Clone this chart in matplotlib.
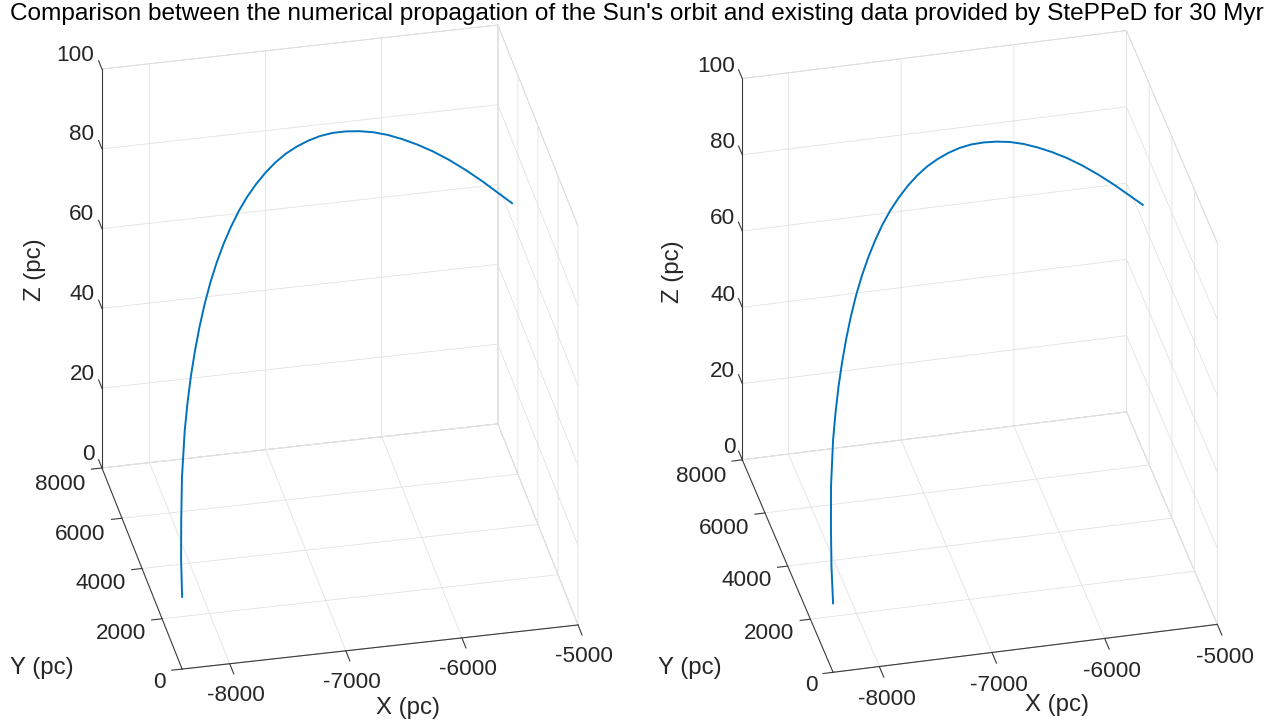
import numpy as np
import matplotlib
matplotlib.use("Agg")
import matplotlib.pyplot as plt
from matplotlib.ticker import NullFormatter

W_PX, H_PX = 1277, 727

TITLE = ("Comparison between the numerical propagation of the Sun's orbit "
         "and existing data provided by StePPeD for 30 Myr")

X_LIM = (-8410, -5000)
Y_LIM = (0, 8000)
Z_LIM = (0, 100)
X_TICKS = [-8000, -7000, -6000, -5000]
Y_TICKS = [0, 2000, 4000, 6000, 8000]
Z_TICKS = [0, 20, 40, 60, 80, 100]

# Sun's orbit over 30 Myr (pc)
orbit_x = [-8410, -8385, -8350, -8310, -8253, -8212, -8166, -8115, -8059,
           -7999, -7934, -7864, -7790, -7711, -7628, -7540, -7448, -7352,
           -7251, -7147, -7038, -6925, -6808, -6687, -6563, -6434, -6302,
           -6166, -6027, -5884, -5739, -5590, -5437, -5282, -5010]
orbit_y = [0, 393, 784, 1174, 1561, 1753, 1944, 2133, 2322,
           2509, 2694, 2877, 3059, 3239, 3417, 3593, 3766, 3937,
           4106, 4272, 4436, 4597, 4754, 4909, 5061, 5210, 5355,
           5497, 5636, 5771, 5902, 6030, 6154, 6274, 6470]
orbit_z = [18.1, 25.0, 32.3, 40.3, 49.4, 55.1, 60.5, 65.4, 70.1,
           74.4, 78.4, 82.0, 85.2, 88.1, 90.7, 92.9, 94.7, 96.2,
           97.4, 98.2, 98.6, 98.7, 98.5, 97.9, 96.9, 95.6, 94.0,
           92.0, 89.6, 86.9, 83.9, 80.5, 76.7, 72.6, 65.0]

LINE_BLUE = "#0072BD"
AX_COLOR = "#3a3a3a"
TXT_COLOR = "#262626"
GRID_COLOR = "#e2e2e2"
EDGE_COLOR = "#cccccc"

TICK_FS = 16.2
LABEL_FS = 17.3
TITLE_FS = 17.6

plt.rcParams["font.family"] = ["Liberation Sans", "DejaVu Sans"]
plt.rcParams["grid.color"] = GRID_COLOR
plt.rcParams["grid.linewidth"] = 0.6

fig = plt.figure(figsize=(W_PX / 100, H_PX / 100), dpi=100)
fig.patch.set_facecolor("white")

panels = [
    {
        "view": (31.9, -101.9),
        "aspect": (404.7, 389, 470),
        "targets": [((X_LIM[0], 0, 0), (182, 669)),
                    ((X_LIM[1], 0, 0), (578, 625)),
                    ((X_LIM[0], 8000, 0), (102, 468)),
                    ((X_LIM[0], 8000, 100), (102, 69))],
        "xlabel": (408, 708), "ylabel": (42, 668), "zlabel": (35, 270),
        "zlab_dy": 560,
        "start": [0.02, 0.05, 0.45, 0.45 * W_PX / H_PX],
    },
    {
        "view": (32.7, -103.0),
        "aspect": (395.1, 404.4, 454),
        "targets": [((X_LIM[0], 0, 0), (833, 672)),
                    ((X_LIM[1], 0, 0), (1218, 624)),
                    ((X_LIM[0], 8000, 0), (742, 460)),
                    ((X_LIM[0], 8000, 100), (742, 79))],
        "xlabel": (1057, 705), "ylabel": (690, 668), "zlabel": (673, 272),
        "zlab_dy": 470,
        "start": [0.52, 0.05, 0.45, 0.45 * W_PX / H_PX],
    },
]


def project_px(ax, pts):
    M = ax.get_proj()
    h = np.column_stack([pts, np.ones(len(pts))]) @ M.T
    xy = h[:, :2] / h[:, 3:4]
    return ax.transData.transform(xy)


def calibrate(ax, targets):
    pts = np.array([t[0] for t in targets], float)
    tgt = np.array([t[1] for t in targets], float)
    tgt[:, 1] = H_PX - tgt[:, 1]
    for _ in range(3):
        fig.canvas.draw()
        cur = project_px(ax, pts)
        bb = ax.get_position().transformed(fig.transFigure)
        c0 = np.array([(bb.x0 + bb.x1) / 2, (bb.y0 + bb.y1) / 2])
        pm, tm = cur.mean(0), tgt.mean(0)
        s = np.sum((cur - pm) * (tgt - tm)) / np.sum((cur - pm) ** 2)
        c1 = tm - s * (pm - c0)
        w, h = bb.width * s, bb.height * s
        ax.set_position([(c1[0] - w / 2) / W_PX, (c1[1] - h / 2) / H_PX,
                         w / W_PX, h / H_PX])


axes = []
for p in panels:
    ax = fig.add_axes(p["start"], projection="3d", proj_type="ortho")
    ax.view_init(elev=p["view"][0], azim=p["view"][1])
    ax.set_box_aspect(p["aspect"])

    for axis in (ax.xaxis, ax.yaxis, ax.zaxis):
        axis.set_pane_color((1, 1, 1, 1))
        axis.pane.set_edgecolor(EDGE_COLOR)
        axis.pane.set_linewidth(0.6)
        axis.line.set_visible(False)
        axis._axinfo["tick"]["inward_factor"] = 0
        axis._axinfo["tick"]["outward_factor"] = 0
        axis._axinfo["grid"]["color"] = GRID_COLOR
        axis._axinfo["grid"]["linewidth"] = 0.6
        axis.set_major_formatter(NullFormatter())

    ax.set_xticks(X_TICKS)
    ax.set_yticks(Y_TICKS)
    ax.set_zticks(Z_TICKS)

    ax.plot(orbit_x, orbit_y, orbit_z, color=LINE_BLUE, lw=1.4)

    xmin, xmax = X_LIM
    ymax = Y_LIM[1]
    # axis lines like MATLAB's
    ax.plot([xmin, xmax], [0, 0], [0, 0], color=AX_COLOR, lw=0.8)
    ax.plot([xmin, xmin], [0, ymax], [0, 0], color=AX_COLOR, lw=0.8)
    ax.plot([xmin, xmin], [ymax, ymax], [0, 100], color=AX_COLOR, lw=0.8)

    for xt in X_TICKS:
        ax.plot([xt, xt], [0, -400], [0, 0], color=AX_COLOR, lw=0.8)
        ax.text(xt - 40, -1050, -1.2, f"{xt}", ha="center", va="center",
                fontsize=TICK_FS, color=TXT_COLOR)
    for yt in Y_TICKS:
        ax.plot([xmin, xmin - 90], [yt, yt], [0, 0], color=AX_COLOR, lw=0.8)
        ax.text(xmin - 140, yt, -3.0 - 0.2 * yt / 2000, f"{yt}", ha="right",
                va="center", fontsize=TICK_FS, color=TXT_COLOR)
    for zt in Z_TICKS:
        ax.plot([xmin, xmin], [ymax, ymax + 330], [zt, zt], color=AX_COLOR, lw=0.8)
        ax.text(xmin - 15, ymax + p["zlab_dy"], zt, f"{zt}", ha="right",
                va="center", fontsize=TICK_FS, color=TXT_COLOR)

    ax.set_xlim(*X_LIM)
    ax.set_ylim(*Y_LIM)
    ax.set_zlim(*Z_LIM)
    axes.append(ax)

    lx, ly = p["xlabel"]
    fig.text(lx / W_PX, 1 - ly / H_PX, "X (pc)", ha="center", va="center",
             fontsize=LABEL_FS, color=TXT_COLOR)
    lx, ly = p["ylabel"]
    fig.text(lx / W_PX, 1 - ly / H_PX, "Y (pc)", ha="center", va="center",
             fontsize=LABEL_FS, color=TXT_COLOR)
    lx, ly = p["zlabel"]
    fig.text(lx / W_PX, 1 - ly / H_PX, "Z (pc)", ha="center", va="center",
             rotation=90, fontsize=LABEL_FS, color=TXT_COLOR)

for ax, p in zip(axes, panels):
    calibrate(ax, p["targets"])

fig.text(637 / W_PX, 1 - 14 / H_PX, TITLE, ha="center", va="center",
         fontsize=TITLE_FS, color="black")

fig.savefig("out.png", dpi=100, facecolor="white")
